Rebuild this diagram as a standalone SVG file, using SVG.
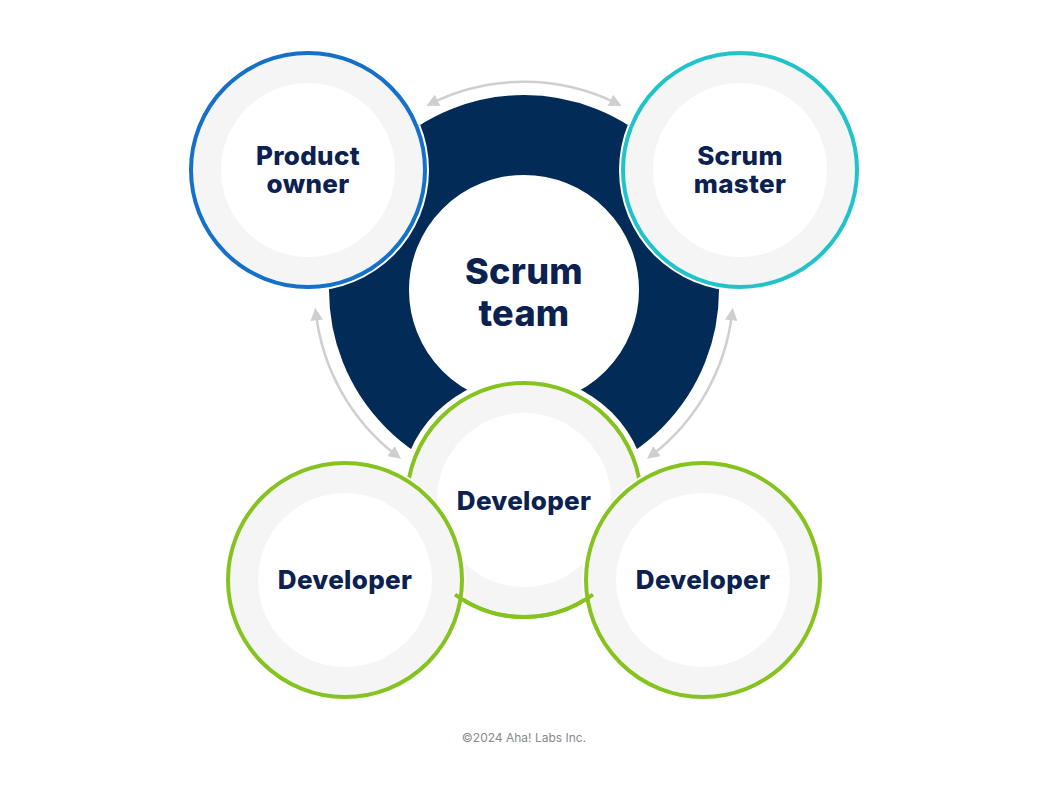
<svg xmlns="http://www.w3.org/2000/svg" width="1048" height="795" viewBox="0 0 1048 795">
<defs>
<style>
.halo{fill:#fff}
.g{fill:#f5f5f5}
.w{fill:#fff}
.lbl{font-family:"Inter","Liberation Sans",sans-serif;font-weight:800;fill:#0b2150;text-anchor:middle;letter-spacing:0.3px}
.arr{fill:none;stroke:#cfcfcf;stroke-width:2.5;marker-start:url(#ah);marker-end:url(#ah)}
</style>
<marker id="ah" viewBox="0 0 10 10" refX="5" refY="5" markerWidth="5" markerHeight="5" orient="auto-start-reverse"><path d="M0,0 L10,5 L0,10 z" fill="#cfcfcf"/></marker>
</defs>
<rect width="1048" height="795" fill="#fff"/>
<g id="connectors">
<path class="arr" d="M432,103 A210,210 0 0 1 616,103"/>
<path class="arr" d="M316,314 A210,210 0 0 0 396,455"/>
<path class="arr" d="M732,314 A210,210 0 0 1 652,455"/>
</g>
<g id="scrum-team">
<circle cx="524" cy="290" r="155" fill="none" stroke="#022c57" stroke-width="80"/>
<text class="lbl" x="524" y="284" font-size="36">Scrum</text>
<text class="lbl" x="524" y="326" font-size="36">team</text>
</g>
<g id="product-owner">
<circle class="halo" cx="308" cy="170" r="121"/>
<circle class="g" cx="308" cy="170" r="115"/>
<circle class="w" cx="308" cy="170" r="87"/>
<circle cx="308" cy="170" r="117" fill="none" stroke="#1570c8" stroke-width="4"/>
<text class="lbl" x="308" y="165" font-size="26">Product</text>
<text class="lbl" x="308" y="193" font-size="26">owner</text>
</g>
<g id="scrum-master">
<circle class="halo" cx="740" cy="170" r="121"/>
<circle class="g" cx="740" cy="170" r="115"/>
<circle class="w" cx="740" cy="170" r="87"/>
<circle cx="740" cy="170" r="117" fill="none" stroke="#22c3c8" stroke-width="4"/>
<text class="lbl" x="740" y="165" font-size="26">Scrum</text>
<text class="lbl" x="740" y="193" font-size="26">master</text>
</g>
<g id="developer-center">
<circle class="halo" cx="524" cy="500" r="124"/>
<circle class="g" cx="524" cy="500" r="115"/>
<circle class="w" cx="524" cy="500" r="87"/>
<circle cx="524" cy="500" r="117" fill="none" stroke="#86c320" stroke-width="4"/>
<text class="lbl" x="524" y="510" font-size="26">Developer</text>
</g>
<g id="developer-left">
<circle class="halo" cx="345" cy="580" r="121"/>
<circle class="g" cx="345" cy="580" r="115"/>
<circle class="w" cx="345" cy="580" r="87"/>
<circle cx="345" cy="580" r="117" fill="none" stroke="#86c320" stroke-width="4"/>
<text class="lbl" x="345" y="589" font-size="26">Developer</text>
</g>
<g id="developer-right">
<circle class="halo" cx="703" cy="580" r="121"/>
<circle class="g" cx="703" cy="580" r="115"/>
<circle class="w" cx="703" cy="580" r="87"/>
<circle cx="703" cy="580" r="117" fill="none" stroke="#86c320" stroke-width="4"/>
<text class="lbl" x="703" y="589" font-size="26">Developer</text>
</g>
<path d="M455,594.5 A117,117 0 0 0 593,594.5" fill="none" stroke="#86c320" stroke-width="4"/>
<text x="524" y="742" font-family="Inter,'Liberation Sans',sans-serif" font-size="12" fill="#8a8a8a" text-anchor="middle">©2024 Aha! Labs Inc.</text>
</svg>
